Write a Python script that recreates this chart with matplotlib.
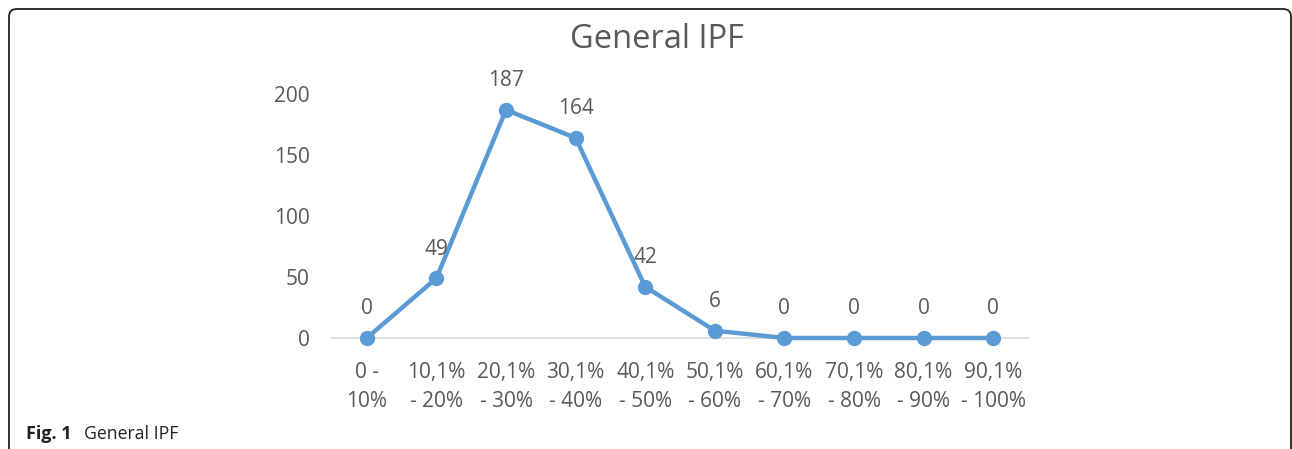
import matplotlib.pyplot as plt
from matplotlib.patches import FancyBboxPatch

categories = ["0 -\n10%", "10,1%\n- 20%", "20,1%\n- 30%", "30,1%\n- 40%", "40,1%\n- 50%",
              "50,1%\n- 60%", "60,1%\n- 70%", "70,1%\n- 80%", "80,1%\n- 90%", "90,1%\n- 100%"]
values = [0, 49, 187, 164, 42, 6, 0, 0, 0, 0]
yticks = [0, 50, 100, 150, 200]

plt.rcParams['font.family'] = ['Open Sans', 'DejaVu Sans']
gray = "#595959"
blue = "#5B9BD5"

fig = plt.figure(figsize=(12.92, 4.49), dpi=100)
ax = fig.add_axes([332/1292, 1-338/449, 696/1292, 244/449])

x = list(range(len(values)))
ax.plot(x, values, color=blue, lw=3.2, marker="o", ms=10, clip_on=False, zorder=3)
for xi, v in zip(x, values):
    ax.annotate(str(v), (xi, v), xytext=(0, 21), textcoords="offset points",
                ha="center", va="center", fontsize=15, color=gray)

ax.set_xlim(-0.5, len(values) - 0.5)
ax.set_ylim(0, 200)
ax.set_yticks(yticks)
ax.set_xticks(x)
ax.set_xticklabels(categories, fontsize=15, color=gray, linespacing=1.5)
ax.tick_params(axis="y", length=0, labelsize=15, labelcolor=gray, pad=16)
ax.tick_params(axis="x", length=0, pad=17)
for s in ["top", "right", "left"]:
    ax.spines[s].set_visible(False)
ax.spines["bottom"].set_color("#D9D9D9")
ax.spines["bottom"].set_linewidth(1.2)
ax.spines["bottom"].set_zorder(1)

fig.text(657/1292, 1-40/449, "General IPF", ha="center", va="center", fontsize=23.5, color=gray)

fig.text(26/1292, 1-434/449, "Fig. 1", ha="left", va="center", fontsize=13, fontweight="bold", color="#222222")
fig.text(84/1292, 1-434/449, "General IPF", ha="left", va="center", fontsize=12.7, color="#222222")

box = FancyBboxPatch((9/1292, -0.1), 1282/1292, 1.1 - 9/449, boxstyle="round,pad=0,rounding_size=0.006",
                     transform=fig.transFigure, fill=False, ec="#222222", lw=1.3, mutation_aspect=1292/449)
fig.patches.append(box)

fig.savefig("out.png", dpi=100)
